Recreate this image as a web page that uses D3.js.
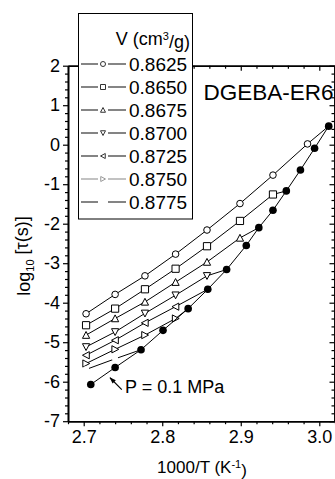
<!DOCTYPE html>
<html>
<head>
<meta charset="utf-8">
<script src="https://cdn.jsdelivr.net/npm/d3@7"></script>
<style>
  body { margin: 0; background: #fff; }
  text { font-family: Arial, "Liberation Sans", sans-serif; fill: #000; }
</style>
</head>
<body>
<div id="chart"></div>
<script>
// specific volumes of the isochores (legend)
const volumes = ["0.8625", "0.8650", "0.8675", "0.8700", "0.8725", "0.8750", "0.8775"];
const markers = ["circle", "square", "up", "down", "left", "right", "none"];

// 1000/T of the isochoric measurements
const isoX = [2.703, 2.740, 2.778, 2.817, 2.857, 2.899, 2.941, 2.985];
// log10(tau) for each isochore (as many values as were measured)
const isochoreY = [
  [-4.28, -3.79, -3.32, -2.77, -2.16, -1.49, -0.77, 0.02],
  [-4.57, -4.15, -3.66, -3.14, -2.57, -1.93, -1.26],
  [-4.82, -4.40, -3.98, -3.48, -2.97, -2.36],
  [-5.12, -4.74, -4.27, -3.81, -3.32],
  [-5.33, -4.95, -4.51, -4.10],
  [-5.54, -5.18, -4.82, -4.40],
  [-5.69, -5.42]
];

// isobar P = 0.1 MPa
const isobarX = [2.709, 2.740, 2.773, 2.801, 2.833, 2.858, 2.882, 2.907, 2.923, 2.941, 2.958, 2.976, 2.994, 3.012];
const isobarY = [-6.07, -5.64, -5.19, -4.70, -4.15, -3.66, -3.16, -2.55, -2.10, -1.66, -1.17, -0.64, -0.09, 0.47];
// isobar point where each isochore joins it
const isochoreEnd = [13, 10, 8, 6, 5, 4, 2];

const xTicks = [2.7, 2.8, 2.9, 3.0];
const yTicks = [2, 1, 0, -1, -2, -3, -4, -5, -6, -7];

const svgWidth = 335, svgHeight = 479;
const svg = d3.select("#chart").append("svg")
  .attr("width", svgWidth)
  .attr("height", svgHeight);

const mLeft = 68, mRight = 335, mTop = 65.7, mBottom = 421.2;

const x = d3.scaleLinear().domain([2.68, 3.02]).range([mLeft, mRight]);
const y = d3.scaleLinear().domain([-7, 2]).range([mBottom, mTop]);

const xMinor = d3.range(2.68, 3.0201, 0.02).map(v => +v.toFixed(2)).filter(v => !xTicks.includes(v));
const yMinor = d3.range(-7, 2.001, 0.2).map(v => +v.toFixed(1)).filter(v => !yTicks.includes(v));

function styleAxis(g) {
  g.select(".domain").attr("stroke", "#000").attr("stroke-width", 1.6);
  g.selectAll(".tick line").attr("stroke", "#000").attr("stroke-width", 1.2);
  g.selectAll(".tick text").style("font-size", "18px")
    .style("font-family", "Arial, 'Liberation Sans', sans-serif");
}

// bottom axis (ticks outward)
svg.append("g")
  .attr("transform", "translate(0," + mBottom + ")")
  .call(d3.axisBottom(x).tickValues(xTicks).tickFormat(d3.format(".1f")).tickSize(5).tickSizeOuter(0).tickPadding(4))
  .call(styleAxis);
svg.append("g")
  .attr("transform", "translate(0," + mBottom + ")")
  .call(d3.axisBottom(x).tickValues(xMinor).tickFormat("").tickSize(3).tickSizeOuter(0))
  .call(styleAxis);

// left axis (ticks outward)
svg.append("g")
  .attr("transform", "translate(" + mLeft + ",0)")
  .call(d3.axisLeft(y).tickValues(yTicks).tickFormat(d => String(d)).tickSize(5).tickSizeOuter(0).tickPadding(3))
  .call(styleAxis);
svg.append("g")
  .attr("transform", "translate(" + mLeft + ",0)")
  .call(d3.axisLeft(y).tickValues(yMinor).tickFormat("").tickSize(3).tickSizeOuter(0))
  .call(styleAxis);

// top axis (ticks inward)
svg.append("g")
  .attr("transform", "translate(0," + mTop + ")")
  .call(d3.axisBottom(x).tickValues(xTicks).tickFormat("").tickSize(5).tickSizeOuter(0))
  .call(styleAxis);
svg.append("g")
  .attr("transform", "translate(0," + mTop + ")")
  .call(d3.axisBottom(x).tickValues(xMinor).tickFormat("").tickSize(3).tickSizeOuter(0))
  .call(styleAxis);

// right axis (ticks inward)
svg.append("g")
  .attr("transform", "translate(" + (mRight - 0.5) + ",0)")
  .call(d3.axisLeft(y).tickValues(yTicks).tickFormat("").tickSize(5).tickSizeOuter(0))
  .call(styleAxis);
svg.append("g")
  .attr("transform", "translate(" + (mRight - 0.5) + ",0)")
  .call(d3.axisLeft(y).tickValues(yMinor).tickFormat("").tickSize(3).tickSizeOuter(0))
  .call(styleAxis);

// marker shapes
function markerPath(type, s) {
  if (type === "circle") return d3.symbol(d3.symbolCircle, Math.PI * s * s)();
  if (type === "square") return `M${-s},${-s}h${2 * s}v${2 * s}h${-2 * s}Z`;
  const h = s * 0.9;
  return `M0,${-s}L${s},${h}L${-s},${h}Z`;
}
function markerRotate(type) {
  return { up: 0, down: 180, left: -90, right: 90 }[type] || 0;
}

const line = d3.line().x(d => x(d[0])).y(d => y(d[1]));
const plot = svg.append("g");

// isochores
isochoreY.forEach((vals, i) => {
  const pts = vals.map((v, j) => [isoX[j], v]);
  const end = isochoreEnd[i];
  plot.append("path")
    .datum(pts.concat([[isobarX[end], isobarY[end]]]))
    .attr("fill", "none")
    .attr("stroke", "#000")
    .attr("stroke-width", 1)
    .attr("d", line);
  plot.selectAll(null)
    .data(pts)
    .enter().append("path")
      .attr("transform", d => `translate(${x(d[0])},${y(d[1])}) rotate(${markerRotate(markers[i])})`)
      .attr("d", markers[i] === "none" ? d3.symbol(d3.symbolCircle, 30)() : markerPath(markers[i], markers[i] === "circle" ? 3.3 : 3.6))
      .attr("fill", "#fff")
      .attr("stroke", markers[i] === "none" ? "none" : "#000")
      .attr("stroke-width", 1);
});

// isobar
const isobar = isobarX.map((v, i) => [v, isobarY[i]]);
plot.append("path")
  .datum(isobar)
  .attr("fill", "none")
  .attr("stroke", "#000")
  .attr("stroke-width", 1)
  .attr("d", line);
plot.selectAll(".bar-pt")
  .data(isobar)
  .enter().append("circle")
    .attr("class", "bar-pt")
    .attr("cx", d => x(d[0]))
    .attr("cy", d => y(d[1]))
    .attr("r", 3.8)
    .attr("fill", "#000");

// annotation P = 0.1 MPa with arrow
svg.append("defs").append("marker")
  .attr("id", "arrow")
  .attr("viewBox", "0 0 10 10")
  .attr("refX", 9).attr("refY", 5)
  .attr("markerWidth", 6).attr("markerHeight", 6)
  .attr("orient", "auto")
  .append("path").attr("d", "M0,1.5L10,5L0,8.5Z").attr("fill", "#000");
svg.append("line")
  .attr("x1", x(2.7485)).attr("y1", y(-6.20))
  .attr("x2", x(2.7335)).attr("y2", y(-5.90))
  .attr("stroke", "#000").attr("stroke-width", 1.1)
  .attr("marker-end", "url(#arrow)");
svg.append("text")
  .attr("x", x(2.7526)).attr("y", y(-6.134)).attr("dy", "0.35em")
  .style("font-size", "18px")
  .text("P = 0.1 MPa");

// sample label
svg.append("text")
  .attr("x", x(2.8526)).attr("y", y(1.13))
  .style("font-size", "22.5px")
  .text("DGEBA-ER6");

// legend
const legend = svg.append("g");
legend.append("rect")
  .attr("x", 78.5).attr("y", 13.5)
  .attr("width", 114).attr("height", 205.5)
  .attr("fill", "#fff").attr("stroke", "#000").attr("stroke-width", 1);
const lt = legend.append("text")
  .attr("x", 190).attr("y", 45)
  .attr("text-anchor", "end")
  .style("font-size", "18px");
lt.append("tspan").text("V (cm");
lt.append("tspan").attr("dy", "-0.45em").style("font-size", "11px").text("3");
lt.append("tspan").attr("dy", "0.45em").text("/g)");

const rowY = d3.scaleLinear().domain([0, 6]).range([64, 202]);
volumes.forEach((v, i) => {
  const cy = rowY(i);
  const col = i === 5 ? "#999" : "#333";
  legend.append("line")
    .attr("x1", 81).attr("x2", 98).attr("y1", cy).attr("y2", cy)
    .attr("stroke", col).attr("stroke-width", 1.2);
  legend.append("line")
    .attr("x1", 108).attr("x2", 126).attr("y1", cy).attr("y2", cy)
    .attr("stroke", col).attr("stroke-width", 1.2);
  if (markers[i] !== "none") {
    legend.append("path")
      .attr("transform", `translate(103,${cy}) rotate(${markerRotate(markers[i])})`)
      .attr("d", markerPath(markers[i], 2.5))
      .attr("fill", "#fff")
      .attr("stroke", col)
      .attr("stroke-width", 1);
  }
  legend.append("text")
    .attr("x", 129).attr("y", cy).attr("dy", "0.36em")
    .style("font-size", "19px")
    .text(v);
});

// axis titles
const yl = svg.append("text")
  .attr("transform", "translate(30,256) rotate(-90)")
  .attr("text-anchor", "middle")
  .style("font-size", "18px");
yl.append("tspan").text("log");
yl.append("tspan").attr("dy", "0.35em").style("font-size", "11px").text("10");
yl.append("tspan").attr("dy", "-0.35em").text(" [τ(s)]");

const xl = svg.append("text")
  .attr("x", 202).attr("y", 473)
  .attr("text-anchor", "middle")
  .style("font-size", "17px");
xl.append("tspan").text("1000/T (K");
xl.append("tspan").attr("dy", "-0.45em").style("font-size", "11px").text("-1");
xl.append("tspan").attr("dy", "0.45em").text(")");
</script>
</body>
</html>
